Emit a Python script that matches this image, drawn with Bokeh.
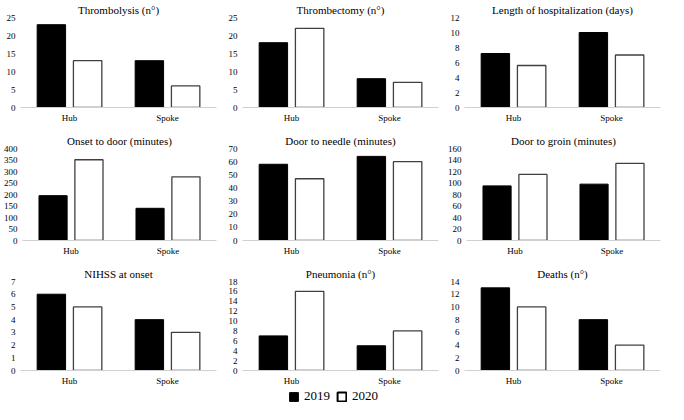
from bokeh.plotting import figure
from bokeh.layouts import column, row
from bokeh.models import FactorRange, Range1d, FixedTicker, Legend, LegendItem, ColumnDataSource
from bokeh.transform import dodge
from bokeh.embed import file_html
from bokeh.resources import INLINE

groups = ["Hub", "Spoke"]
years = ["2019", "2020"]

titles = [
    "Thrombolysis (n°)", "Thrombectomy (n°)", "Length of hospitalization (days)",
    "Onset to door (minutes)", "Door to needle (minutes)", "Door to groin (minutes)",
    "NIHSS at onset", "Pneumonia (n°)", "Deaths (n°)",
]

thrombolysis_2019 = [23, 13]
thrombolysis_2020 = [13, 6]
thrombectomy_2019 = [18, 8]
thrombectomy_2020 = [22, 7]
hospitalization_2019 = [7.2, 10]
hospitalization_2020 = [5.6, 7]
onset_door_2019 = [195, 140]
onset_door_2020 = [351, 277]
door_needle_2019 = [58, 64]
door_needle_2020 = [47, 60]
door_groin_2019 = [95, 98]
door_groin_2020 = [115, 134]
nihss_2019 = [6, 4]
nihss_2020 = [5, 3]
pneumonia_2019 = [7, 5]
pneumonia_2020 = [16, 8]
deaths_2019 = [13, 8]
deaths_2020 = [10, 4]

ticks = [
    [0, 5, 10, 15, 20, 25],
    [0, 5, 10, 15, 20, 25],
    [0, 2, 4, 6, 8, 10, 12],
    [0, 50, 100, 150, 200, 250, 300, 350, 400],
    [0, 10, 20, 30, 40, 50, 60, 70],
    [0, 20, 40, 60, 80, 100, 120, 140, 160],
    [0, 1, 2, 3, 4, 5, 6, 7],
    [0, 2, 4, 6, 8, 10, 12, 14, 16, 18],
    [0, 2, 4, 6, 8, 10, 12, 14],
]

series = [
    (thrombolysis_2019, thrombolysis_2020),
    (thrombectomy_2019, thrombectomy_2020),
    (hospitalization_2019, hospitalization_2020),
    (onset_door_2019, onset_door_2020),
    (door_needle_2019, door_needle_2020),
    (door_groin_2019, door_groin_2020),
    (nihss_2019, nihss_2020),
    (pneumonia_2019, pneumonia_2020),
    (deaths_2019, deaths_2020),
]

FONT = "Liberation Serif"
W = 222
ROW_H = [131, 133, 124]


def make_panel(i):
    r = i // 3
    t = ticks[i]
    p = figure(
        width=W, height=ROW_H[r], x_range=FactorRange(*groups), y_range=Range1d(0, t[-1]),
        output_backend="svg", toolbar_location=None, title=titles[i],
        min_border_left=20, min_border_right=6, min_border_top=0,
        min_border_bottom=0 if r == 2 else 24,
    )
    p.title.align = "center"
    p.title.text_font = FONT
    p.title.text_font_style = "normal"
    p.title.text_font_size = "11px"
    p.title.text_line_height = 1.0
    p.title.text_color = "#000000"
    p.title.standoff = 3
    p.outline_line_color = None
    p.grid.visible = False
    v19, v20 = series[i]
    src = ColumnDataSource(dict(g=groups, y19=v19, y20=v20))
    p.vbar(x=dodge("g", -0.185, range=p.x_range), top="y19", width=0.29, source=src,
           fill_color="#000000", line_color="#000000", line_width=1)
    p.vbar(x=dodge("g", 0.185, range=p.x_range), top="y20", width=0.29, source=src,
           fill_color="#ffffff", line_color="#404040", line_width=1.3)
    p.yaxis.ticker = FixedTicker(ticks=t)
    p.yaxis.axis_line_color = None
    p.yaxis.major_tick_line_color = None
    p.yaxis.minor_tick_line_color = None
    p.yaxis.major_tick_out = 0
    p.yaxis.major_tick_in = 0
    p.yaxis.major_label_text_font = FONT
    p.yaxis.major_label_text_font_size = "9px"
    p.yaxis.major_label_text_color = "#000000"
    p.yaxis.major_label_standoff = 5
    p.xaxis.axis_line_color = "#d0d0d0"
    p.xaxis.major_tick_line_color = None
    p.xaxis.minor_tick_line_color = None
    p.xaxis.major_tick_out = 0
    p.xaxis.major_tick_in = 0
    p.xaxis.axis_label_standoff = 0
    p.xaxis.major_label_text_font = FONT
    p.xaxis.major_label_text_font_size = "9px"
    p.xaxis.major_label_text_line_height = 1.0
    p.xaxis.major_label_text_color = "#000000"
    p.xaxis.major_label_standoff = 5
    return p


panels = [make_panel(i) for i in range(9)]

lg = figure(width=3 * W, height=16, output_backend="svg", toolbar_location=None,
            x_axis_type=None, y_axis_type=None, min_border=0,
            x_range=Range1d(0, 1), y_range=Range1d(0, 1))
lg.outline_line_color = None
lg.grid.visible = False
r19 = lg.quad(left=[5], right=[6], bottom=[5], top=[6], fill_color="#000000", line_color="#000000")
r20 = lg.quad(left=[5], right=[6], bottom=[5], top=[6], fill_color="#ffffff", line_color="#000000", line_width=2)
legend = Legend(items=[LegendItem(label=years[0], renderers=[r19]),
                       LegendItem(label=years[1], renderers=[r20])],
                orientation="horizontal", location="center")
legend.label_text_font = FONT
legend.label_text_font_size = "13px"
legend.label_text_color = "#000000"
legend.glyph_width = 11
legend.glyph_height = 11
legend.label_standoff = 5
legend.spacing = 6
legend.padding = 0
legend.margin = 0
legend.border_line_color = None
legend.background_fill_alpha = 0
lg.add_layout(legend, "center")

layout = column(
    row(*panels[0:3]),
    row(*panels[3:6]),
    row(*panels[6:9]),
    lg,
)

open("out.html", "w").write(file_html(layout, INLINE))
